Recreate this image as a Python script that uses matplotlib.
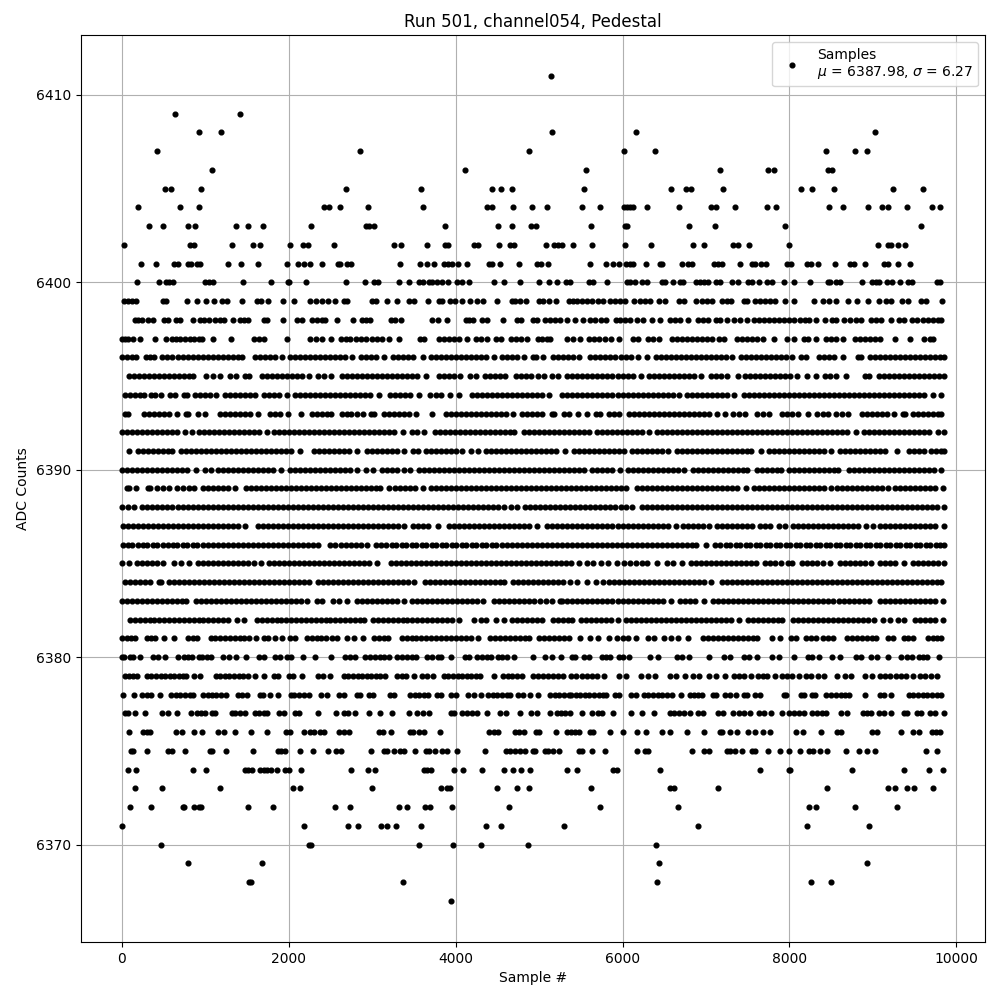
import matplotlib
matplotlib.use('Agg')
import matplotlib.pyplot as plt

# sample numbers, one list per ADC level
s6367 = [3944]
s6368 = [1530, 1550, 3368, 6408, 8256, 8496]
s6369 = [788, 1676, 6432, 8928]
s6370 = [476, 2240, 2268, 3560, 3968, 4304, 4868, 6396]
s6371 = [8, 2180, 2708, 2828, 3104, 3176, 3284, 3584, 4364, 4544, 5304, 6900, 8208, 8952]
s6372 = [104, 356, 728, 748, 860, 920, 952, 1508, 1808, 2552, 2732, 3320, 3416, 3632, 3692, 3956, 4640,
         5736, 6660, 8232, 8316, 8784, 9288]
s6373 = [164, 488, 1172, 2048, 2132, 2996, 3824, 3900, 3932, 4496, 4736, 4880, 5628, 6564, 6612, 7140,
         8448, 9180, 9264, 9408, 9492, 9720]
s6374 = [80, 176, 848, 1004, 1472, 1508, 1560, 1652, 1700, 1740, 1784, 1856, 1960, 2008, 2144, 2744, 2948,
         3032, 3620, 3660, 3704, 3980, 4088, 4316, 4580, 4688, 4784, 4892, 5340, 5460, 5892, 5932, 6444,
         7644, 7990, 8005, 8748, 9372, 9672, 9845]
s6375 = [112, 132, 308, 560, 608, 752, 1052, 1084, 1244, 1568, 1868, 1908, 1952, 2132, 2288, 2468, 2564,
         2624, 2984, 3140, 3180, 3260, 3332, 3380, 3512, 3640, 3680, 3752, 3836, 3896, 4012, 4352, 4604,
         4652, 4716, 4772, 4828, 4924, 4948, 5072, 5112, 5164, 5244, 5484, 5512, 5640, 5796, 6168, 6272,
         6300, 6828, 6972, 7032, 7252, 7292, 7352, 7432, 7552, 7592, 7740, 7884, 7992, 8132, 8232, 8280,
         8364, 8448, 8676, 8832, 8928, 9024, 9636, 9768]
s6376 = [92, 260, 300, 340, 644, 716, 860, 956, 1148, 1220, 1356, 1544, 1744, 1964, 2020, 2180, 2252, 2300,
         2380, 2420, 2604, 2660, 2720, 3084, 3132, 3224, 3452, 3492, 3560, 3620, 3808, 4400, 4460, 4508,
         4708, 4760, 4820, 4960, 5000, 5208, 5340, 5380, 5428, 5480, 5612, 5652, 5856, 6000, 6168, 6280,
         6468, 6564, 6768, 6972, 7164, 7192, 7292, 7372, 7500, 7584, 7680, 7764, 8076, 8160, 8376, 8568,
         8616, 8988, 9048, 9336, 9480, 9552, 9704, 9752, 9800]
s6377 = [40, 80, 156, 284, 488, 552, 656, 824, 900, 948, 1000, 1080, 1120, 1320, 1360, 1420, 1480, 1592,
         1640, 1700, 1740, 1880, 1940, 2080, 2120, 2348, 2564, 2660, 2708, 2792, 2960, 3092, 3236, 3440,
         3532, 3612, 3680, 3940, 3980, 4080, 4140, 4200, 4260, 4376, 4532, 4604, 4772, 4900, 4980, 5136,
         5212, 5260, 5312, 5372, 5520, 5640, 5712, 5760, 5892, 6096, 6228, 6372, 6564, 6612, 6672, 6732,
         6804, 6900, 6960, 7140, 7200, 7320, 7392, 7452, 7524, 7632, 7692, 7780, 7908, 7992, 8052, 8112,
         8172, 8272, 8332, 8392, 8444, 8612, 8692, 8880, 8932, 8980, 9072, 9132, 9212, 9372, 9412, 9532,
         9580, 9680, 9740, 9848]
s6378 = [12, 152, 248, 300, 348, 464, 588, 644, 700, 756, 812, 852, 968, 1028, 1080, 1132, 1188, 1244, 1388,
         1440, 1500, 1652, 1692, 1772, 1868, 2028, 2068, 2128, 2188, 2240, 2388, 2460, 2600, 2660, 2820,
         2852, 2960, 3012, 3212, 3260, 3452, 3508, 3564, 3620, 3668, 3772, 3828, 3940, 4000, 4148, 4220,
         4300, 4388, 4444, 4500, 4556, 4612, 4652, 4748, 4812, 4892, 4992, 5132, 5188, 5244, 5300, 5356,
         5380, 5440, 5492, 5548, 5604, 5660, 5716, 5764, 5808, 5912, 5952, 6096, 6164, 6252, 6308, 6364,
         6420, 6476, 6532, 6588, 6700, 6804, 6852, 6900, 6948, 7084, 7116, 7232, 7284, 7364, 7460, 7492,
         7592, 7644, 7932, 7964, 8140, 8180, 8272, 8312, 8444, 8500, 8556, 8612, 8668, 8708, 8904, 9084,
         9132, 9212, 9428, 9484, 9540, 9596, 9652, 9708, 9764, 9812]
s6379 = [40, 90, 140, 180, 300, 355, 410, 465, 520, 575, 630, 685, 735, 770, 860, 940, 1124, 1180, 1235, 1290,
         1345, 1400, 1455, 1510, 1592, 1700, 1820, 1872, 2000, 2052, 2156, 2350, 2410, 2490, 2660, 2715,
         2770, 2825, 2880, 2935, 2990, 3045, 3100, 3150, 3300, 3360, 3405, 3500, 3600, 3660, 3730, 3860,
         3915, 3970, 4025, 4080, 4135, 4190, 4250, 4290, 4460, 4570, 4625, 4680, 4735, 4800, 4930, 4990,
         5050, 5110, 5170, 5230, 5290, 5380, 5440, 5510, 5570, 5640, 5700, 5780, 5956, 6040, 6220, 6300,
         6384, 6572, 6640, 6752, 6840, 6912, 7032, 7116, 7232, 7340, 7400, 7460, 7540, 7620, 7680, 7730,
         7830, 7912, 7970, 8030, 8112, 8200, 8260, 8340, 8420, 8572, 8660, 8740, 8900, 8990, 9090, 9150,
         9210, 9280, 9340, 9400, 9480, 9560, 9620, 9700, 9770]
s6380 = [4, 28, 100, 140, 224, 380, 440, 524, 668, 740, 788, 840, 920, 960, 1020, 1068, 1208, 1280, 1368, 1484,
         1640, 1700, 1840, 1900, 1980, 2028, 2168, 2320, 2512, 2680, 2740, 2800, 2920, 2980, 3040, 3092,
         3148, 3200, 3300, 3360, 3420, 3480, 3520, 3660, 3720, 3788, 3828, 3944, 4108, 4160, 4260, 4320,
         4380, 4428, 4508, 4560, 4620, 4700, 4924, 5076, 5160, 5268, 5392, 5432, 5540, 5604, 5752, 5804,
         5852, 5952, 6004, 6072, 6324, 6420, 6652, 6712, 6792, 7032, 7220, 7292, 7452, 7512, 7612, 7792,
         7872, 8052, 8220, 8272, 8352, 8512, 8604, 8792, 8852, 8972, 9052, 9180, 9332, 9404, 9464, 9552,
         9604, 9652, 9792]
s6381 = [4, 60, 108, 160, 304, 350, 400, 512, 628, 788, 848, 900, 1064, 1122, 1180, 1240, 1298, 1355, 1412, 1470,
         1524, 1612, 1700, 1752, 1840, 1920, 2012, 2080, 2216, 2275, 2335, 2390, 2450, 2520, 2584, 2700,
         2788, 2892, 3024, 3085, 3140, 3192, 3356, 3415, 3475, 3530, 3590, 3650, 3710, 3770, 3825, 3885,
         3945, 4005, 4060, 4120, 4180, 4264, 4416, 4475, 4530, 4590, 4650, 4710, 4770, 4830, 4884, 5000,
         5060, 5120, 5180, 5240, 5300, 5360, 5492, 5616, 5704, 5844, 5936, 6000, 6060, 6156, 6300, 6380,
         6496, 6584, 6660, 6780, 6968, 7030, 7085, 7145, 7205, 7265, 7325, 7385, 7445, 7505, 7565, 7616,
         7792, 7884, 8016, 8076, 8200, 8260, 8320, 8400, 8465, 8528, 8688, 8750, 8810, 8870, 8930, 8985,
         9036, 9180, 9240, 9372, 9425, 9480, 9656, 9715, 9770, 9816]
s6382 = [96, 155, 215, 275, 335, 390, 450, 510, 565, 625, 685, 745, 800, 860, 920, 975, 1035, 1095, 1155, 1215,
         1272, 1376, 1464, 1616, 1675, 1735, 1795, 1855, 1910, 1970, 2030, 2090, 2150, 2205, 2265, 2325,
         2385, 2445, 2500, 2560, 2620, 2680, 2740, 2800, 2850, 2904, 3008, 3068, 3125, 3185, 3245, 3305,
         3365, 3420, 3480, 3540, 3600, 3660, 3715, 3775, 3835, 3895, 3955, 4044, 4220, 4300, 4360, 4480,
         4580, 4676, 4735, 4795, 4855, 4915, 4975, 5040, 5168, 5228, 5285, 5345, 5400, 5504, 5565, 5625,
         5685, 5745, 5805, 5865, 5940, 6044, 6104, 6164, 6224, 6284, 6344, 6404, 6464, 6524, 6584, 6644,
         6704, 6764, 6824, 6884, 6944, 7004, 7064, 7124, 7184, 7244, 7304, 7392, 7500, 7560, 7620, 7680,
         7740, 7800, 7860, 7912, 8040, 8100, 8160, 8220, 8280, 8340, 8400, 8460, 8520, 8580, 8640, 8700,
         8760, 8820, 8880, 8940, 9016, 9116, 9208, 9304, 9376, 9508, 9570, 9630, 9690, 9750, 9836]
s6383 = [4, 64, 124, 184, 244, 304, 364, 424, 484, 544, 604, 664, 724, 764, 884, 944, 1004, 1064, 1124, 1184,
         1244, 1304, 1364, 1424, 1484, 1544, 1604, 1664, 1724, 1784, 1844, 1904, 1964, 2024, 2084, 2144,
         2224, 2336, 2404, 2536, 2600, 2704, 2816, 2876, 2936, 2996, 3056, 3116, 3176, 3236, 3296, 3376,
         3476, 3536, 3596, 3656, 3716, 3776, 3836, 3896, 3956, 4016, 4076, 4136, 4196, 4256, 4332, 4456,
         4516, 4576, 4636, 4696, 4756, 4816, 4876, 4936, 5016, 5085, 5160, 5250, 5280, 5340, 5400, 5460,
         5520, 5580, 5640, 5700, 5760, 5820, 5880, 5940, 6000, 6060, 6120, 6180, 6240, 6300, 6360, 6420,
         6480, 6580, 6690, 6750, 6810, 6870, 6980, 7088, 7148, 7208, 7268, 7328, 7388, 7448, 7508, 7568,
         7628, 7688, 7748, 7808, 7868, 7928, 7988, 8048, 8108, 8168, 8228, 8288, 8348, 8408, 8468, 8528,
         8588, 8648, 8708, 8768, 8828, 8888, 8956, 9088, 9148, 9208, 9268, 9328, 9388, 9448, 9508, 9568,
         9628, 9688, 9748, 9836]
s6384 = [36, 96, 156, 216, 276, 336, 444, 472, 568, 628, 688, 748, 808, 868, 928, 988, 1048, 1108, 1168, 1228,
         1288, 1348, 1408, 1468, 1528, 1588, 1648, 1708, 1768, 1828, 1888, 1948, 2008, 2068, 2128, 2188,
         2244, 2348, 2408, 2468, 2528, 2588, 2648, 2708, 2768, 2828, 2888, 2948, 3008, 3068, 3128, 3188,
         3248, 3308, 3368, 3428, 3504, 3628, 3688, 3748, 3808, 3868, 3928, 3988, 4048, 4108, 4168, 4228,
         4288, 4348, 4408, 4468, 4528, 4584, 4688, 4748, 4808, 4868, 4928, 4988, 5048, 5108, 5168, 5228,
         5288, 5368, 5460, 5576, 5680, 5770, 5840, 5900, 5960, 6020, 6080, 6140, 6200, 6260, 6320, 6380,
         6440, 6500, 6560, 6620, 6680, 6740, 6800, 6860, 6920, 6980, 7056, 7188, 7248, 7308, 7368, 7428,
         7488, 7548, 7608, 7668, 7728, 7788, 7848, 7908, 7968, 8028, 8088, 8148, 8208, 8268, 8328, 8388,
         8448, 8508, 8568, 8628, 8688, 8748, 8808, 8868, 8928, 8988, 9048, 9108, 9168, 9228, 9288, 9348,
         9408, 9468, 9528, 9588, 9648, 9708, 9768, 9816]
s6385 = [8, 84, 184, 244, 304, 364, 424, 492, 624, 712, 800, 908, 968, 1028, 1088, 1148, 1208, 1268, 1328, 1388,
         1448, 1508, 1584, 1664, 1764, 1824, 1884, 1944, 2004, 2064, 2124, 2184, 2244, 2304, 2364, 2424,
         2484, 2544, 2604, 2664, 2724, 2784, 2844, 2904, 2964, 3064, 3224, 3284, 3344, 3404, 3464, 3524,
         3584, 3644, 3704, 3764, 3824, 3884, 3944, 4004, 4064, 4124, 4184, 4244, 4304, 4364, 4424, 4484,
         4544, 4604, 4664, 4724, 4784, 4844, 4904, 4964, 5024, 5084, 5144, 5204, 5264, 5324, 5384, 5476,
         5576, 5650, 5740, 5830, 5928, 6020, 6090, 6160, 6230, 6296, 6412, 6528, 6600, 6708, 6816, 6876,
         6936, 6996, 7056, 7116, 7176, 7236, 7296, 7356, 7416, 7476, 7536, 7596, 7708, 7770, 7830, 7896,
         7988, 8036, 8148, 8210, 8270, 8330, 8400, 8488, 8600, 8660, 8720, 8780, 8840, 8900, 8976, 9088,
         9148, 9208, 9268, 9368, 9480, 9540, 9600, 9660, 9720, 9780, 9848]
s6386 = [12, 70, 125, 190, 250, 305, 370, 425, 490, 550, 610, 665, 730, 785, 850, 905, 970, 1030, 1090, 1150,
         1215, 1270, 1335, 1390, 1455, 1510, 1575, 1630, 1695, 1750, 1815, 1870, 1935, 1990, 2055, 2110,
         2175, 2235, 2295, 2350, 2500, 2560, 2625, 2685, 2745, 2810, 2870, 2940, 3050, 3110, 3170, 3235,
         3290, 3355, 3410, 3475, 3530, 3595, 3650, 3715, 3770, 3835, 3890, 3955, 4010, 4075, 4130, 4195,
         4250, 4315, 4370, 4435, 4490, 4555, 4610, 4675, 4730, 4795, 4850, 4915, 4970, 5030, 5095, 5150,
         5215, 5270, 5335, 5390, 5455, 5510, 5575, 5630, 5695, 5750, 5815, 5870, 5935, 5990, 6055, 6110,
         6175, 6230, 6295, 6350, 6415, 6470, 6535, 6590, 6655, 6710, 6775, 6830, 6885, 7000, 7110, 7170,
         7235, 7290, 7355, 7410, 7475, 7530, 7595, 7650, 7715, 7770, 7835, 7890, 7955, 8010, 8075, 8130,
         8195, 8250, 8315, 8370, 8435, 8490, 8555, 8610, 8675, 8730, 8795, 8850, 8915, 8970, 9035, 9090,
         9155, 9210, 9275, 9330, 9395, 9450, 9515, 9570, 9635, 9690, 9755, 9810, 9848]
s6387 = [12, 72, 132, 192, 252, 312, 372, 432, 492, 552, 612, 672, 732, 792, 852, 912, 972, 1032, 1092, 1152,
         1212, 1272, 1332, 1392, 1476, 1628, 1688, 1748, 1808, 1868, 1928, 1988, 2048, 2108, 2168, 2228,
         2288, 2348, 2408, 2468, 2528, 2588, 2648, 2708, 2768, 2828, 2888, 2948, 3008, 3068, 3128, 3188,
         3248, 3308, 3384, 3488, 3548, 3608, 3668, 3784, 3916, 3976, 4036, 4096, 4156, 4216, 4276, 4336,
         4396, 4456, 4516, 4576, 4636, 4696, 4756, 4816, 4884, 4980, 5100, 5160, 5220, 5280, 5340, 5400,
         5460, 5520, 5580, 5640, 5700, 5760, 5820, 5880, 5940, 6000, 6060, 6120, 6180, 6240, 6300, 6360,
         6420, 6480, 6540, 6636, 6720, 6780, 6840, 6900, 6960, 7036, 7128, 7188, 7248, 7308, 7368, 7428,
         7488, 7556, 7648, 7708, 7768, 7876, 7944, 8040, 8100, 8160, 8220, 8280, 8340, 8400, 8460, 8520,
         8580, 8640, 8700, 8760, 8820, 8916, 9000, 9088, 9148, 9208, 9268, 9328, 9388, 9448, 9508, 9568,
         9628, 9688, 9748, 9848]
s6388 = [4, 70, 152, 248, 308, 368, 428, 488, 548, 608, 668, 728, 788, 848, 908, 968, 1028, 1088, 1148, 1208,
         1268, 1328, 1388, 1448, 1508, 1568, 1628, 1688, 1748, 1808, 1868, 1928, 1988, 2048, 2108, 2168,
         2228, 2288, 2348, 2408, 2468, 2528, 2588, 2648, 2708, 2768, 2828, 2888, 2948, 3008, 3068, 3128,
         3188, 3248, 3308, 3368, 3428, 3488, 3548, 3608, 3668, 3728, 3788, 3848, 3908, 3968, 4028, 4088,
         4148, 4208, 4268, 4328, 4388, 4448, 4508, 4576, 4664, 4736, 4836, 4896, 4956, 5016, 5076, 5136,
         5196, 5256, 5316, 5376, 5436, 5496, 5556, 5616, 5676, 5736, 5796, 5856, 5916, 5976, 6036, 6116,
         6228, 6288, 6348, 6408, 6468, 6528, 6588, 6648, 6708, 6768, 6828, 6888, 6948, 7008, 7068, 7128,
         7188, 7248, 7308, 7368, 7428, 7488, 7548, 7608, 7668, 7728, 7788, 7848, 7908, 7968, 8028, 8088,
         8148, 8208, 8268, 8328, 8388, 8448, 8508, 8568, 8628, 8688, 8748, 8808, 8868, 8928, 8988, 9048,
         9108, 9168, 9228, 9288, 9348, 9408, 9468, 9528, 9588, 9648, 9708, 9768, 9851]
s6389 = [60, 90, 172, 316, 334, 424, 490, 564, 664, 730, 800, 864, 968, 1030, 1090, 1150, 1210, 1272, 1360, 1484,
         1544, 1604, 1664, 1724, 1784, 1844, 1904, 1964, 2024, 2084, 2144, 2204, 2264, 2324, 2384, 2444,
         2504, 2564, 2624, 2684, 2744, 2804, 2864, 2924, 2984, 3044, 3096, 3208, 3268, 3328, 3388, 3448,
         3508, 3604, 3704, 3764, 3824, 3884, 3944, 4004, 4064, 4124, 4184, 4244, 4304, 4364, 4424, 4484,
         4544, 4604, 4664, 4724, 4784, 4844, 4904, 4964, 5024, 5084, 5144, 5204, 5264, 5324, 5384, 5444,
         5504, 5564, 5624, 5684, 5744, 5804, 5864, 5924, 5984, 6044, 6168, 6228, 6288, 6348, 6408, 6468,
         6528, 6588, 6648, 6708, 6768, 6828, 6888, 6948, 7008, 7068, 7128, 7188, 7248, 7308, 7368, 7476,
         7580, 7640, 7700, 7760, 7820, 7880, 7940, 8000, 8060, 8120, 8180, 8240, 8300, 8360, 8420, 8496,
         8570, 8630, 8690, 8750, 8810, 8870, 8930, 8990, 9050, 9110, 9176, 9268, 9328, 9388, 9448, 9508,
         9568, 9628, 9688, 9748, 9836]
s6390 = [4, 64, 124, 184, 244, 304, 364, 424, 484, 544, 604, 664, 724, 784, 884, 992, 1064, 1148, 1208, 1268,
         1328, 1388, 1448, 1508, 1568, 1628, 1688, 1748, 1812, 1912, 2016, 2076, 2136, 2196, 2256, 2316,
         2376, 2436, 2496, 2556, 2616, 2676, 2736, 2824, 2928, 3008, 3116, 3176, 3236, 3296, 3376, 3452,
         3556, 3616, 3676, 3736, 3796, 3856, 3916, 3976, 4036, 4096, 4156, 4216, 4276, 4336, 4396, 4456,
         4516, 4576, 4636, 4696, 4756, 4816, 4876, 4936, 4996, 5056, 5116, 5176, 5236, 5296, 5356, 5416,
         5476, 5544, 5640, 5700, 5760, 5820, 5880, 5968, 6068, 6128, 6188, 6248, 6308, 6368, 6428, 6488,
         6548, 6608, 6668, 6736, 6840, 6900, 6960, 7020, 7080, 7140, 7200, 7260, 7320, 7380, 7440, 7496,
         7608, 7668, 7728, 7788, 7848, 7904, 7998, 8058, 8118, 8178, 8238, 8298, 8358, 8418, 8478, 8538,
         8584, 8708, 8768, 8828, 8888, 8948, 9008, 9068, 9128, 9188, 9248, 9308, 9368, 9428, 9488, 9548,
         9608, 9668, 9728, 9816]
s6391 = [92, 196, 256, 316, 376, 436, 496, 556, 604, 704, 764, 824, 884, 944, 1004, 1064, 1124, 1184, 1244, 1304,
         1364, 1424, 1484, 1544, 1604, 1664, 1724, 1784, 1844, 1904, 1964, 2024, 2132, 2308, 2368, 2428,
         2488, 2548, 2608, 2668, 2728, 2824, 2936, 2996, 3056, 3116, 3176, 3236, 3296, 3384, 3488, 3552,
         3644, 3704, 3764, 3824, 3884, 3944, 4004, 4072, 4184, 4264, 4364, 4424, 4484, 4544, 4604, 4664,
         4724, 4784, 4844, 4904, 4964, 5024, 5084, 5144, 5204, 5316, 5420, 5480, 5540, 5600, 5660, 5720,
         5780, 5840, 5900, 5960, 6016, 6110, 6170, 6230, 6290, 6350, 6410, 6470, 6544, 6648, 6708, 6768,
         6828, 6888, 6948, 7008, 7068, 7128, 7188, 7248, 7308, 7368, 7428, 7488, 7544, 7656, 7752, 7812,
         7872, 7932, 7992, 8052, 8112, 8172, 8232, 8292, 8352, 8412, 8504, 8608, 8668, 8728, 8788, 8848,
         8908, 8968, 9028, 9088, 9144, 9284, 9428, 9488, 9548, 9610, 9696, 9756, 9816, 9848]
s6392 = [4, 64, 124, 184, 244, 304, 364, 424, 484, 544, 604, 664, 752, 840, 924, 984, 1044, 1104, 1164, 1224,
         1284, 1344, 1404, 1464, 1524, 1584, 1644, 1736, 1824, 1884, 1944, 2004, 2064, 2124, 2184, 2244,
         2304, 2364, 2424, 2484, 2544, 2604, 2664, 2724, 2784, 2844, 2904, 2964, 3024, 3084, 3144, 3204,
         3264, 3372, 3476, 3536, 3624, 3748, 3808, 3868, 3928, 3988, 4048, 4108, 4168, 4228, 4288, 4348,
         4408, 4468, 4528, 4588, 4648, 4704, 4824, 4884, 4944, 5004, 5064, 5124, 5184, 5244, 5304, 5364,
         5424, 5484, 5544, 5596, 5696, 5756, 5816, 5876, 5936, 5996, 6056, 6116, 6176, 6236, 6316, 6408,
         6468, 6528, 6588, 6648, 6708, 6768, 6828, 6888, 6948, 7008, 7068, 7128, 7188, 7248, 7308, 7368,
         7428, 7488, 7548, 7608, 7668, 7728, 7788, 7848, 7908, 7968, 8028, 8088, 8148, 8208, 8268, 8328,
         8388, 8448, 8508, 8568, 8628, 8688, 8796, 8896, 8956, 9016, 9076, 9136, 9196, 9256, 9316, 9376,
         9436, 9496, 9556, 9616, 9676, 9776, 9848]
s6393 = [36, 72, 272, 330, 390, 450, 510, 570, 656, 764, 792, 908, 1000, 1172, 1232, 1292, 1352, 1412, 1472, 1532,
         1632, 1780, 1840, 1900, 1992, 2152, 2276, 2336, 2396, 2456, 2504, 2636, 2700, 2744, 2824, 2888,
         2984, 3024, 3144, 3204, 3264, 3324, 3384, 3444, 3528, 3716, 3884, 3944, 4004, 4064, 4124, 4184,
         4244, 4304, 4364, 4424, 4484, 4544, 4604, 4684, 4796, 4856, 4916, 4976, 5030, 5150, 5185, 5296,
         5360, 5470, 5575, 5680, 5735, 5840, 5900, 5960, 6080, 6140, 6200, 6260, 6320, 6380, 6440, 6500,
         6560, 6620, 6680, 6740, 6800, 6860, 6920, 6980, 7040, 7136, 7228, 7328, 7400, 7470, 7616, 7680,
         7756, 7908, 7970, 8035, 8104, 8220, 8336, 8400, 8465, 8556, 8632, 8704, 8868, 8930, 8990, 9050,
         9110, 9170, 9256, 9360, 9385, 9480, 9540, 9600, 9660, 9720, 9780, 9816]
s6394 = [36, 96, 156, 216, 264, 348, 404, 476, 576, 640, 744, 776, 872, 932, 992, 1052, 1132, 1240, 1300, 1360,
         1420, 1480, 1540, 1592, 1708, 1768, 1828, 1888, 1976, 2080, 2140, 2200, 2260, 2320, 2380, 2440,
         2500, 2560, 2620, 2680, 2740, 2800, 2860, 2920, 2980, 3088, 3216, 3276, 3336, 3396, 3456, 3564,
         3692, 3760, 3824, 3936, 4044, 4196, 4256, 4316, 4376, 4436, 4496, 4556, 4616, 4676, 4736, 4796,
         4856, 4916, 4976, 5036, 5116, 5280, 5340, 5400, 5460, 5520, 5580, 5640, 5700, 5760, 5820, 5880,
         5940, 6000, 6060, 6120, 6180, 6240, 6300, 6360, 6420, 6480, 6540, 6600, 6676, 6768, 6828, 6888,
         6948, 7008, 7068, 7128, 7188, 7248, 7336, 7456, 7516, 7576, 7636, 7696, 7756, 7816, 7876, 7936,
         7996, 8056, 8116, 8176, 8236, 8296, 8356, 8416, 8476, 8536, 8596, 8656, 8716, 8776, 8836, 8896,
         8956, 9016, 9076, 9136, 9196, 9256, 9316, 9376, 9436, 9496, 9556, 9616, 9716, 9816]
s6395 = [88, 148, 208, 268, 328, 388, 448, 508, 568, 628, 688, 748, 808, 856, 1012, 1096, 1176, 1296, 1364, 1476,
         1524, 1676, 1736, 1796, 1856, 1916, 1976, 2036, 2096, 2156, 2240, 2348, 2420, 2504, 2636, 2696,
         2756, 2816, 2876, 2936, 2996, 3056, 3116, 3176, 3236, 3296, 3356, 3416, 3476, 3536, 3644, 3796,
         3860, 3920, 3980, 4056, 4176, 4244, 4348, 4410, 4470, 4530, 4592, 4728, 4788, 4848, 4908, 4990,
         5064, 5150, 5224, 5340, 5400, 5460, 5520, 5580, 5640, 5700, 5760, 5820, 5880, 5940, 6000, 6060,
         6120, 6216, 6320, 6380, 6440, 6500, 6560, 6620, 6680, 6740, 6800, 6860, 6936, 7056, 7120, 7180,
         7248, 7380, 7468, 7528, 7588, 7648, 7708, 7768, 7828, 7888, 7948, 8008, 8096, 8208, 8316, 8428,
         8490, 8564, 8676, 8904, 8956, 9068, 9128, 9188, 9248, 9308, 9368, 9428, 9488, 9548, 9608, 9668,
         9728, 9788, 9848]
s6396 = [4, 60, 120, 172, 288, 340, 392, 488, 548, 608, 668, 728, 788, 848, 908, 968, 1028, 1088, 1148, 1208, 1268,
         1328, 1388, 1444, 1596, 1656, 1716, 1776, 1836, 1924, 2016, 2076, 2136, 2196, 2256, 2316, 2376,
         2436, 2496, 2556, 2616, 2676, 2764, 2864, 2924, 2984, 3044, 3144, 3248, 3308, 3368, 3428, 3488,
         3604, 3704, 3764, 3824, 3884, 3944, 4004, 4064, 4124, 4184, 4244, 4304, 4364, 4456, 4556, 4616,
         4676, 4736, 4816, 4928, 4960, 5052, 5168, 5228, 5288, 5348, 5408, 5480, 5616, 5676, 5736, 5796,
         5856, 5916, 5976, 6036, 6096, 6184, 6288, 6400, 6460, 6520, 6580, 6640, 6700, 6760, 6820, 6880,
         6940, 7000, 7060, 7120, 7180, 7240, 7316, 7416, 7476, 7536, 7596, 7656, 7716, 7776, 7836, 7896,
         7956, 8036, 8136, 8204, 8356, 8416, 8476, 8536, 8644, 8820, 8856, 8960, 9020, 9080, 9140, 9200,
         9260, 9320, 9380, 9440, 9500, 9560, 9620, 9680, 9740, 9800, 9848]
s6397 = [4, 40, 80, 140, 224, 404, 532, 600, 652, 700, 760, 820, 868, 920, 960, 1088, 1304, 1580, 1640, 1708,
         1984, 2260, 2330, 2400, 2508, 2630, 2690, 2740, 2810, 2870, 2930, 3000, 3060, 3120, 3200, 3320,
         3570, 3620, 3800, 3860, 3920, 3980, 4040, 4140, 4240, 4300, 4380, 4480, 4540, 4660, 4720, 4780,
         4860, 4990, 5040, 5100, 5130, 5340, 5410, 5492, 5600, 5660, 5720, 5790, 5860, 5960, 6120,
         6190, 6300, 6370, 6440, 6592, 6650, 6710, 6770, 6830, 6890, 6950, 7010, 7070, 7160, 7212, 7370,
         7430, 7490, 7550, 7610, 7680, 7812, 7972, 8060, 8172, 8220, 8316, 8440, 8500, 8560, 8640, 8780,
         8840, 8900, 8960, 9020, 9090, 9264, 9444, 9610, 9680, 9720]
s6398 = [160, 200, 240, 320, 372, 508, 552, 652, 692, 848, 932, 980, 1040, 1112, 1172, 1228, 1328, 1412, 1460, 1508,
         1700, 1740, 1932, 2100, 2160, 2280, 2340, 2400, 2440, 2584, 2768, 2876, 2930, 2972, 3228, 3276,
         3344, 3716, 3788, 3896, 4120, 4160, 4212, 4320, 4380, 4568, 4740, 4780, 4928, 4980, 5072, 5132,
         5192, 5252, 5332, 5436, 5532, 5612, 5672, 5740, 5804, 5924, 5972, 6032, 6092, 6172, 6240, 6352,
         6452, 6572, 6632, 6692, 6784, 6900, 6960, 7020, 7124, 7172, 7252, 7332, 7412, 7492, 7572, 7632,
         7692, 7752, 7812, 7872, 7932, 7992, 8056, 8132, 8192, 8240, 8316, 8432, 8512, 8564, 8652, 8724,
         8792, 8860, 8972, 9032, 9100, 9212, 9312, 9376, 9472, 9532, 9600, 9660, 9720, 9780, 9820]
s6399 = [28, 76, 124, 172, 500, 532, 776, 896, 1004, 1100, 1196, 1256, 1436, 1616, 1664, 1748, 1928, 2064, 2252,
         2324, 2396, 2468, 2552, 2660, 2696, 2996, 3044, 3176, 3296, 3440, 3500, 3668, 3800, 3840, 3932,
         3992, 4076, 4172, 4260, 4328, 4496, 4676, 4712, 4772, 4844, 5004, 5052, 5124, 5204, 5364, 5412,
         5452, 5512, 5572, 5640, 5712, 5772, 5852, 5912, 5972, 6032, 6132, 6212, 6272, 6332, 6432, 6512,
         6672, 6732, 6880, 6952, 7012, 7072, 7192, 7252, 7304, 7452, 7492, 7584, 7652, 7712, 7772, 7832,
         7952, 8052, 8300, 8404, 8472, 8564, 8700, 8812, 8940, 9072, 9152, 9212, 9352, 9424, 9580, 9632,
         9832]
s6400 = [188, 452, 530, 570, 610, 992, 1040, 1088, 1448, 1784, 1995, 2005, 2204, 2684, 2912, 3020, 3068, 3320, 3444,
         3560, 3604, 3680, 3720, 3780, 3832, 3908, 4020, 4080, 4160, 4460, 4580, 4772, 5004, 5124, 5220,
         5328, 5376, 5604, 5652, 5820, 6048, 6084, 6144, 6228, 6292, 6468, 6504, 6600, 6684, 6720, 6884,
         6932, 6972, 7020, 7124, 7164, 7308, 7380, 7500, 7548, 7636, 7732, 7788, 7936, 8060, 8244, 8460,
         8484, 8556, 8604, 8868, 8988, 9036, 9072, 9168, 9228, 9324, 9420, 9468, 9768, 9804]
s6401 = [236, 416, 620, 668, 788, 828, 900, 940, 1268, 1424, 1628, 1976, 2108, 2180, 2252, 2396, 2588, 2620, 2696,
         2748, 3332, 3572, 3656, 3740, 3860, 3908, 3960, 4028, 4140, 4400, 4440, 4532, 4760, 4980, 5028,
         5112, 5616, 5808, 5892, 5952, 6036, 6084, 6120, 6276, 6444, 6468, 6708, 6780, 6828, 7092, 7140,
         7188, 7404, 7548, 7588, 7660, 7716, 7968, 8016, 8208, 8256, 8340, 8544, 8724, 8772, 8904, 9132,
         9180, 9300, 9444]
s6402 = [32, 812, 860, 1316, 1568, 1652, 2012, 2168, 2228, 2540, 3260, 3344, 3656, 3872, 3912, 4220, 4268, 4520,
         4652, 4700, 5088, 5184, 5232, 5280, 5412, 5640, 6024, 6336, 6840, 6972, 7320, 7380, 7512, 7992,
         9060, 9180, 9212, 9300, 9384]
s6403 = [332, 500, 788, 872, 1364, 1508, 1688, 2264, 2924, 2964, 3020, 3872, 4508, 4676, 4904, 4964, 5628, 6024,
         6056, 6792, 7104, 7944, 9576]
s6404 = [200, 692, 920, 2420, 2480, 2612, 2948, 3608, 4376, 4436, 4688, 4916, 5100, 5520, 5736, 6012, 6050, 6090,
         6130, 6288, 6672, 7056, 7124, 7344, 7728, 7836, 8472, 8640, 8940, 9108, 9180, 9408, 9708, 9804]
s6405 = [524, 596, 944, 2684, 3584, 4436, 4544, 4676, 5544, 6576, 6756, 6816, 7200, 8136, 8268, 8532, 9240, 9600]
s6406 = [1076, 4112, 5568, 7164, 7740, 7812, 8460, 8508]
s6407 = [428, 2852, 4885, 6012, 6384, 8436, 8784, 8928]
s6408 = [920, 1184, 5160, 6156, 9024]
s6409 = [632, 1412]
s6411 = [5140]

levels = [6367, 6368, 6369, 6370, 6371, 6372, 6373, 6374, 6375, 6376, 6377, 6378, 6379, 6380, 6381, 6382, 6383,
          6384, 6385, 6386, 6387, 6388, 6389, 6390, 6391, 6392, 6393, 6394, 6395, 6396, 6397, 6398, 6399, 6400,
          6401, 6402, 6403, 6404, 6405, 6406, 6407, 6408, 6409, 6411]
rows = [s6367, s6368, s6369, s6370, s6371, s6372, s6373, s6374, s6375, s6376, s6377, s6378, s6379, s6380, s6381,
        s6382, s6383, s6384, s6385, s6386, s6387, s6388, s6389, s6390, s6391, s6392, s6393, s6394, s6395, s6396,
        s6397, s6398, s6399, s6400, s6401, s6402, s6403, s6404, s6405, s6406, s6407, s6408, s6409, s6411]

samples = []
counts = []
for level, row in zip(levels, rows):
    samples += row
    counts += [level] * len(row)

plt.figure(figsize=(10, 10))
plt.plot(samples, counts, 'k.', markersize=6.8, label='Samples\n$\\mu$ = 6387.98, $\\sigma$ = 6.27')
plt.title('Run 501, channel054, Pedestal')
plt.xlabel('Sample #')
plt.ylabel('ADC Counts')
plt.grid(True)
plt.legend(loc='upper right')
plt.subplots_adjust(left=0.081, right=0.985, top=0.965, bottom=0.058)
plt.savefig('out.png', dpi=100)
